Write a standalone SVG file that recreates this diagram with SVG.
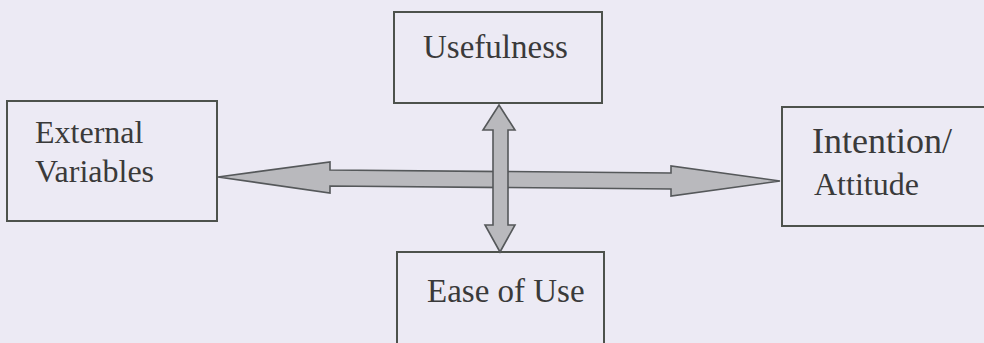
<svg xmlns="http://www.w3.org/2000/svg" width="984" height="343" viewBox="0 0 984 343">
<style>
.box{fill:#eceaf4;stroke:#4d524c;stroke-width:2}
.t{font-family:'Liberation Serif','DejaVu Serif',serif;fill:#3a3a3a}
.arr{fill:#b9b9bd;stroke:#55585a;stroke-width:1.6;stroke-linejoin:miter}
</style>
<rect width="984" height="343" fill="#eceaf4"/>
<g id="external">
<rect class="box" x="7" y="101" width="210" height="120"/>
<text class="t" font-family="Liberation Serif, serif" x="35" y="143" font-size="32">External</text>
<text class="t" font-family="Liberation Serif, serif" x="35" y="182" font-size="32">Variables</text>
</g>
<g id="usefulness">
<rect class="box" x="394" y="12" width="208" height="91"/>
<text class="t" font-family="Liberation Serif, serif" x="423" y="58" font-size="33">Usefulness</text>
</g>
<g id="ease">
<rect class="box" x="397" y="252" width="207" height="100"/>
<text class="t" font-family="Liberation Serif, serif" x="427" y="302" font-size="33">Ease of Use</text>
</g>
<g id="intention">
<rect class="box" x="782" y="107" width="210" height="119"/>
<text class="t" font-family="Liberation Serif, serif" x="812" y="153" font-size="36">Intention/</text>
<text class="t" font-family="Liberation Serif, serif" x="814" y="195" font-size="32">Attitude</text>
</g>
<g id="connectors">
<polygon class="arr" points="218,177 330,162 330,170 671,173 671,166 780,181 671,196 671,189 330,186 330,193"/>
<polygon class="arr" points="499,105 515,130 508,130 508,225 515,225 500,252 485,225 493,225 493,130 483,130"/>
</g>
</svg>
